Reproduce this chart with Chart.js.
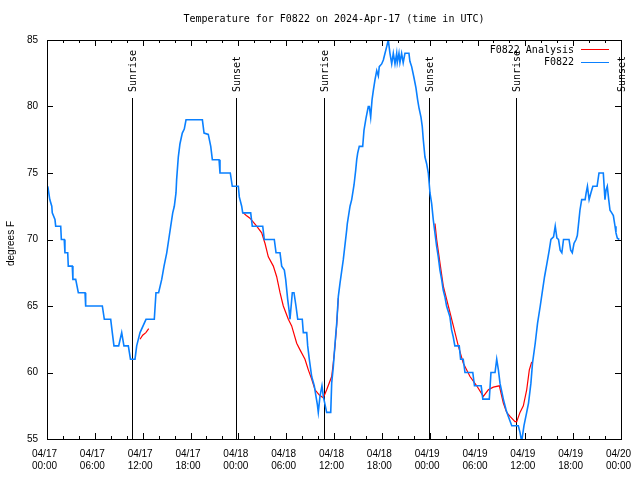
<!DOCTYPE html>
<html>
<head>
<meta charset="utf-8">
<script src="https://cdn.jsdelivr.net/npm/chart.js@4/dist/chart.umd.min.js"></script>
<style>
  html, body { margin: 0; padding: 0; background: #fff; }
</style>
</head>
<body>
<canvas id="chartCanvas" width="640" height="480"></canvas>
<script>
// hours since 04/17 00:00 UTC
const obsHours = [0.1,0.2,0.35,0.6,0.66,1.0,1.09,1.72,1.8,2.16,2.25,2.6,2.67,3.17,3.25,3.6,3.93,4.77,4.85,6.94,7.19,7.99,8.19,8.4,8.99,9.37,9.65,10.2,10.47,11.04,11.25,11.67,12.42,13.46,13.67,14.0,14.39,14.68,15.02,15.27,15.52,15.77,15.97,16.18,16.26,16.47,16.68,16.97,17.22,17.44,19.49,19.7,20.23,20.54,20.74,21.58,21.7,22.99,23.24,24.0,24.12,24.42,24.55,25.55,25.75,27.06,27.26,28.51,28.73,29.23,29.44,29.77,29.94,30.19,30.36,30.48,30.77,30.98,31.23,31.45,32.02,32.15,32.58,32.7,32.9,33.2,33.53,33.74,33.91,34.03,34.24,34.49,34.66,34.87,35.08,35.59,35.71,35.91,36.13,36.34,36.54,36.75,37.17,37.59,37.67,38.01,38.22,38.51,38.72,38.85,38.97,39.17,39.6,39.76,40.01,40.3,40.43,40.6,40.77,40.93,41.14,41.36,41.56,41.68,41.98,42.19,42.4,42.61,42.81,43.02,43.24,43.44,43.65,43.86,43.94,44.15,44.27,44.48,44.68,44.9,45.4,45.52,45.74,46.02,46.28,46.49,46.66,46.91,47.07,47.2,47.41,47.62,47.83,48.04,48.25,48.45,48.66,48.87,49.08,49.29,49.5,49.7,49.91,50.12,50.54,50.75,50.95,51.16,51.71,51.88,52.21,52.43,53.41,53.62,54.46,54.67,55.48,55.69,56.2,56.41,56.62,56.82,57.24,57.58,57.87,58.3,59.12,59.33,59.54,59.83,60.17,60.4,60.7,60.9,61.24,61.53,61.87,62.16,62.41,62.71,63.0,63.21,63.54,63.75,63.96,64.16,64.37,64.58,64.79,65.48,65.69,65.89,66.1,66.36,66.52,66.73,66.85,67.07,67.5,67.63,67.79,68.0,68.22,68.47,69.0,69.24,69.78,69.99,70.12,70.28,70.46,70.62,70.84,71.04,71.25,71.37,71.54,71.79];
const obsTemps = [74,73.6,73,72.5,72,71.5,71,71,70,70,69,69,68,68,67,67,66,66,65,65,64,64,63,62,62,63,62,62,61,61,62,63,64,64,66,66,67,68,69,70,71,72,72.5,73.5,74.5,76.2,77.2,78,78.3,79,79,78,77.9,77,76,76,75,75,74,74,73.2,72.5,72,72,71,71,70,70,69,69,68,67.7,67,65.5,64.7,64,66,66,65,64,64,63,63,62,61,59.7,59,58.2,57.6,57,58.2,59,58.2,57.6,57,57,59.2,60.4,62.2,63.7,65.7,66.7,68.5,70.7,71.2,72.5,73,74.1,75.2,76,76.5,77,77,78.2,79.1,80,80,79.2,80.5,81.2,82,82.7,82.3,83,83.2,83.5,84,84.5,85,84,83.2,84,83.2,84,83.3,84,83.3,84,83.3,84,84,83.4,83,82.2,81.4,80.5,79.9,79.2,78.5,77.5,76.2,75.7,75,73.5,72.7,71.5,70.5,69.5,68.7,67.7,67,66.2,65.7,65,64.2,63.2,62.7,62,62,61,61,60,60,59,59,58,58,60,60,61,60.2,59.2,58,57.2,56.7,56,56,55.5,54.8,56,57,57.7,59.2,60.7,62.2,63.7,65,66.2,67.2,68.2,69.2,70,70.2,71,70.1,70,69.2,69,70,70,69.2,69,69.7,70,70.3,71.5,72.2,73,73,73.5,74,73,73.5,74,74,75,75,73,73.7,74,73,72.2,72,71.8,71,70.5,70.1,70];

const anaHours = [11.67,12.0,12.4,12.76,18,24.62,25.0,25.46,26.3,26.93,27.35,27.76,28.39,28.81,29.23,29.64,30.27,30.69,31.32,31.74,32.36,32.78,33.2,33.62,34.16,34.66,35.08,35.71,35.91,36.13,36.34,36.54,42,48.67,48.88,49.3,49.71,50.34,50.97,51.59,52.22,53.06,53.9,54.73,55.36,55.98,56.74,57.24,57.66,58.08,58.7,58.92,59.33,59.75,60.17,60.5,60.8];
const anaTemps = [62.5,62.8,63.0,63.3,null,72,71.8,71.6,71,70.5,69.7,68.7,68,67.2,66,65,64,63.5,62.2,61.7,61,60.2,59.5,58.7,58.3,58.1,58.7,59.7,60.7,62,63.6,65.6,null,71.2,70,68.2,66.5,65,63.5,62,60.7,59.7,59,58.2,58.7,58.9,59.0,57.7,57,56.7,56.3,56.3,57,57.5,58.7,60.2,60.8];

const sunHours = [10.66, 23.71, 34.75, 47.93, 58.85, 72.0];
const sunLabels = ["Sunrise", "Sunset", "Sunrise", "Sunset", "Sunrise", "Sunset"];

const dayLabels = ["04/17","04/17","04/17","04/17","04/18","04/18","04/18","04/18","04/19","04/19","04/19","04/19","04/20"];
const timeLabels = ["00:00","06:00","12:00","18:00","00:00","06:00","12:00","18:00","00:00","06:00","12:00","18:00","00:00"];

const MONO = '"DejaVu Sans Mono", "Liberation Mono", monospace';
const SANS = '"Liberation Sans", Arial, sans-serif';
const RED = '#ff0000';
const BLUE = '#0a80ff';

const toPoints = (xs, ys) => xs.map((h, i) => ({ x: h, y: ys[i] }));

function line(ctx, x1, y1, x2, y2) {
  ctx.beginPath();
  ctx.moveTo(x1, y1);
  ctx.lineTo(x2, y2);
  ctx.stroke();
}

// gnuplot look: frame, inward ticks, sun lines, title, legend
const gnuplotFrame = {
  id: 'gnuplotFrame',
  beforeDatasetsDraw(c) {
    const { ctx, chartArea: a, scales: { x } } = c;
    ctx.save();
    ctx.strokeStyle = '#000';
    ctx.lineWidth = 1;
    ctx.fillStyle = '#000';
    ctx.font = '10px ' + MONO;
    sunHours.forEach((h, i) => {
      const px = Math.round(x.getPixelForValue(h)) + 0.5;
      line(ctx, px, a.top + 58, px, a.bottom);
      ctx.save();
      ctx.translate(px + 1, a.top + 52);
      ctx.rotate(-Math.PI / 2);
      ctx.textAlign = 'left';
      ctx.textBaseline = 'middle';
      ctx.fillText(sunLabels[i], 0, 0);
      ctx.restore();
    });
    ctx.restore();
  },
  afterDraw(c) {
    const { ctx, chartArea: a, scales: { x, y } } = c;
    ctx.save();
    ctx.strokeStyle = '#000';
    ctx.lineWidth = 1;
    ctx.strokeRect(a.left + 0.5, a.top + 0.5, a.right - a.left, a.bottom - a.top);

    // x ticks, minor every 2h
    for (let h = x.min; h <= x.max; h += 2) {
      const px = Math.round(x.getPixelForValue(h)) + 0.5;
      const len = h % 6 === 0 ? 6 : 3;
      line(ctx, px, a.bottom, px, a.bottom - len);
      line(ctx, px, a.top, px, a.top + len);
    }
    y.ticks.forEach(t => {
      const py = Math.round(y.getPixelForValue(t.value)) + 0.5;
      line(ctx, a.left, py, a.left + 6, py);
      line(ctx, a.right, py, a.right - 6, py);
    });

    ctx.fillStyle = '#000';
    ctx.font = '10px ' + MONO;
    ctx.textAlign = 'center';
    ctx.textBaseline = 'middle';
    ctx.fillText('Temperature for F0822 on 2024-Apr-17 (time in UTC)', (a.left + a.right) / 2, 19);

    ctx.save();
    ctx.font = '10px ' + SANS;
    ctx.translate(11, (a.top + a.bottom) / 2 + 4);
    ctx.rotate(-Math.PI / 2);
    ctx.fillText('degrees F', 0, 0);
    ctx.restore();

    // legend
    const items = [['F0822 Analysis', RED], ['F0822', BLUE]];
    items.forEach(([txt, col], i) => {
      const ly = a.top + 10 + i * 12.5;
      ctx.fillStyle = '#000';
      ctx.textAlign = 'right';
      ctx.fillText(txt, a.right - 47, ly);
      ctx.strokeStyle = col;
      line(ctx, a.right - 40, Math.round(ly) - 0.5, a.right - 12, Math.round(ly) - 0.5);
    });
    ctx.restore();
  }
};

const ctx = document.getElementById('chartCanvas').getContext('2d');

const chart = new Chart(ctx, {
  type: 'line',
  data: {
    datasets: [
      {
        label: 'F0822 Analysis',
        data: toPoints(anaHours, anaTemps),
        borderColor: RED,
        borderWidth: 1.2,
        pointRadius: 0,
        spanGaps: false,
        tension: 0,
        order: 1
      },
      {
        label: 'F0822',
        data: toPoints(obsHours, obsTemps),
        borderColor: BLUE,
        borderWidth: 1.6,
        pointRadius: 0,
        tension: 0,
        order: 0
      }
    ]
  },
  options: {
    responsive: false,
    animation: false,
    layout: { padding: { top: 40, right: 19, left: 0, bottom: 0 } },
    plugins: {
      legend: { display: false },
      tooltip: { enabled: false },
      title: { display: false }
    },
    scales: {
      x: {
        type: 'linear',
        min: 0,
        max: 72,
        afterFit: s => { s.height = 41; s.paddingLeft = 0; s.paddingRight = 0; },
        grid: { display: false, drawTicks: false },
        border: { display: false },
        ticks: {
          stepSize: 6,
          autoSkip: false,
          maxRotation: 0,
          padding: 9,
          labelOffset: -2.5,
          color: '#000',
          font: { family: SANS, size: 10, lineHeight: 1.2 },
          callback: (v, i) => [dayLabels[i], timeLabels[i]]
        }
      },
      y: {
        min: 55,
        max: 85,
        afterFit: s => { s.width = 47; },
        grid: { display: false, drawTicks: false },
        border: { display: false },
        ticks: {
          stepSize: 5,
          padding: 9,
          color: '#000',
          font: { family: SANS, size: 10 }
        }
      }
    }
  },
  plugins: [gnuplotFrame]
});
</script>
</body>
</html>
